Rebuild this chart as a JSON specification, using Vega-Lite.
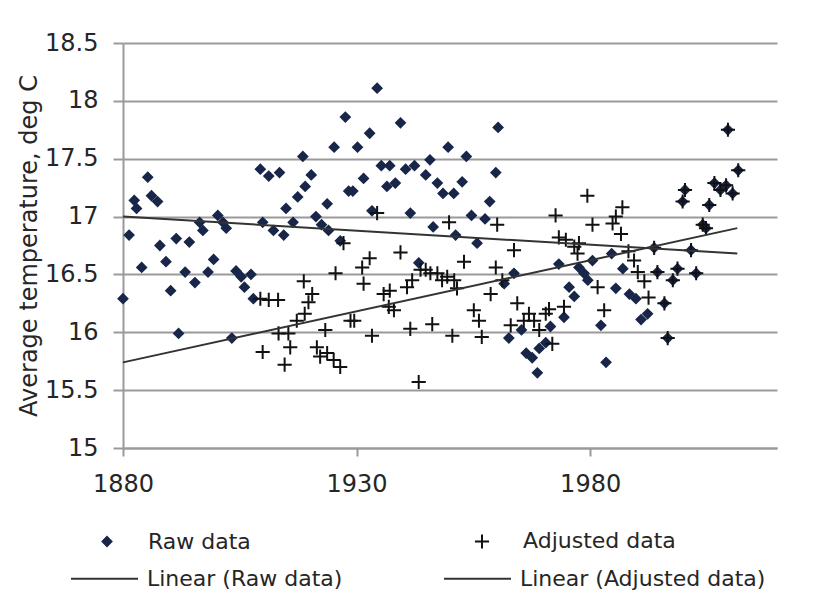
{
  "$schema": "https://vega.github.io/schema/vega-lite/v6.json",
  "width": 654,
  "height": 405,
  "autosize": {"type": "none"},
  "padding": {"left": 123, "top": 43, "right": 42, "bottom": 144},
  "background": "white",
  "config": {
    "view": {"stroke": null},
    "font": "DejaVu Sans",
    "axis": {"labelFont": "DejaVu Sans", "titleFont": "DejaVu Sans", "labelColor": "#262626", "titleColor": "#262626"},
    "legend": {"labelFont": "DejaVu Sans", "labelColor": "#262626", "labelLimit": 400}
  },
  "datasets": {
    "pts": [
      {"series": "Raw data", "year": 1880, "temp": 16.29},
      {"series": "Raw data", "year": 1881.3, "temp": 16.84},
      {"series": "Raw data", "year": 1882.4, "temp": 17.14},
      {"series": "Raw data", "year": 1882.9, "temp": 17.07},
      {"series": "Raw data", "year": 1884, "temp": 16.56},
      {"series": "Raw data", "year": 1885.3, "temp": 17.34},
      {"series": "Raw data", "year": 1886.1, "temp": 17.18},
      {"series": "Raw data", "year": 1887.4, "temp": 17.13},
      {"series": "Raw data", "year": 1887.9, "temp": 16.75},
      {"series": "Raw data", "year": 1889.2, "temp": 16.61},
      {"series": "Raw data", "year": 1890.2, "temp": 16.36},
      {"series": "Raw data", "year": 1891.4, "temp": 16.81},
      {"series": "Raw data", "year": 1891.9, "temp": 15.99},
      {"series": "Raw data", "year": 1893.3, "temp": 16.52},
      {"series": "Raw data", "year": 1894.2, "temp": 16.78},
      {"series": "Raw data", "year": 1895.4, "temp": 16.43},
      {"series": "Raw data", "year": 1896.4, "temp": 16.95},
      {"series": "Raw data", "year": 1897.1, "temp": 16.88},
      {"series": "Raw data", "year": 1898.2, "temp": 16.52},
      {"series": "Raw data", "year": 1899.4, "temp": 16.63},
      {"series": "Raw data", "year": 1900.3, "temp": 17.01},
      {"series": "Raw data", "year": 1901.4, "temp": 16.95},
      {"series": "Raw data", "year": 1902.1, "temp": 16.9},
      {"series": "Raw data", "year": 1903.3, "temp": 15.95},
      {"series": "Raw data", "year": 1904.2, "temp": 16.53},
      {"series": "Raw data", "year": 1905.3, "temp": 16.48},
      {"series": "Raw data", "year": 1906, "temp": 16.39},
      {"series": "Raw data", "year": 1907.4, "temp": 16.5},
      {"series": "Raw data", "year": 1907.9, "temp": 16.29},
      {"series": "Raw data", "year": 1909.4, "temp": 17.41},
      {"series": "Raw data", "year": 1909.9, "temp": 16.95},
      {"series": "Raw data", "year": 1911.2, "temp": 17.35},
      {"series": "Raw data", "year": 1912.2, "temp": 16.88},
      {"series": "Raw data", "year": 1913.5, "temp": 17.38},
      {"series": "Raw data", "year": 1914.4, "temp": 16.84},
      {"series": "Raw data", "year": 1914.9, "temp": 17.07},
      {"series": "Raw data", "year": 1916.4, "temp": 16.95},
      {"series": "Raw data", "year": 1917.4, "temp": 17.17},
      {"series": "Raw data", "year": 1918.5, "temp": 17.52},
      {"series": "Raw data", "year": 1919, "temp": 17.26},
      {"series": "Raw data", "year": 1920.3, "temp": 17.36},
      {"series": "Raw data", "year": 1921.3, "temp": 17.0},
      {"series": "Raw data", "year": 1922.5, "temp": 16.93},
      {"series": "Raw data", "year": 1923.7, "temp": 17.11},
      {"series": "Raw data", "year": 1924, "temp": 16.88},
      {"series": "Raw data", "year": 1925.2, "temp": 17.6},
      {"series": "Raw data", "year": 1926.5, "temp": 16.79},
      {"series": "Raw data", "year": 1927.6, "temp": 17.86},
      {"series": "Raw data", "year": 1928.3, "temp": 17.22},
      {"series": "Raw data", "year": 1929.2, "temp": 17.22},
      {"series": "Raw data", "year": 1930.2, "temp": 17.6},
      {"series": "Raw data", "year": 1931.5, "temp": 17.33},
      {"series": "Raw data", "year": 1932.8, "temp": 17.72},
      {"series": "Raw data", "year": 1933.3, "temp": 17.05},
      {"series": "Raw data", "year": 1934.4, "temp": 18.11},
      {"series": "Raw data", "year": 1935.3, "temp": 17.44},
      {"series": "Raw data", "year": 1936.5, "temp": 17.26},
      {"series": "Raw data", "year": 1937.1, "temp": 17.44},
      {"series": "Raw data", "year": 1938.3, "temp": 17.29},
      {"series": "Raw data", "year": 1939.4, "temp": 17.81},
      {"series": "Raw data", "year": 1940.5, "temp": 17.41},
      {"series": "Raw data", "year": 1941.5, "temp": 17.03},
      {"series": "Raw data", "year": 1942.4, "temp": 17.44},
      {"series": "Raw data", "year": 1943.3, "temp": 16.6},
      {"series": "Raw data", "year": 1944.8, "temp": 17.36},
      {"series": "Raw data", "year": 1945.7, "temp": 17.49},
      {"series": "Raw data", "year": 1946.4, "temp": 16.91},
      {"series": "Raw data", "year": 1947.3, "temp": 17.29},
      {"series": "Raw data", "year": 1948.5, "temp": 17.2},
      {"series": "Raw data", "year": 1949.6, "temp": 17.6},
      {"series": "Raw data", "year": 1950.8, "temp": 17.2},
      {"series": "Raw data", "year": 1951.2, "temp": 16.84},
      {"series": "Raw data", "year": 1952.6, "temp": 17.3},
      {"series": "Raw data", "year": 1953.5, "temp": 17.52},
      {"series": "Raw data", "year": 1954.6, "temp": 17.01},
      {"series": "Raw data", "year": 1955.8, "temp": 16.77},
      {"series": "Raw data", "year": 1957.5, "temp": 16.98},
      {"series": "Raw data", "year": 1958.5, "temp": 17.13},
      {"series": "Raw data", "year": 1959.8, "temp": 17.38},
      {"series": "Raw data", "year": 1960.3, "temp": 17.77},
      {"series": "Raw data", "year": 1961.6, "temp": 16.42},
      {"series": "Raw data", "year": 1962.6, "temp": 15.95},
      {"series": "Raw data", "year": 1963.7, "temp": 16.51},
      {"series": "Raw data", "year": 1965.3, "temp": 16.02},
      {"series": "Raw data", "year": 1966.3, "temp": 15.82},
      {"series": "Raw data", "year": 1967.6, "temp": 15.78},
      {"series": "Raw data", "year": 1968.7, "temp": 15.65},
      {"series": "Raw data", "year": 1969.1, "temp": 15.86},
      {"series": "Raw data", "year": 1970.5, "temp": 15.91},
      {"series": "Raw data", "year": 1971.5, "temp": 16.05},
      {"series": "Raw data", "year": 1973.3, "temp": 16.59},
      {"series": "Raw data", "year": 1974.4, "temp": 16.13},
      {"series": "Raw data", "year": 1975.5, "temp": 16.39},
      {"series": "Raw data", "year": 1976.6, "temp": 16.31},
      {"series": "Raw data", "year": 1977.6, "temp": 16.56},
      {"series": "Raw data", "year": 1978.7, "temp": 16.51},
      {"series": "Raw data", "year": 1979.5, "temp": 16.45},
      {"series": "Raw data", "year": 1980.5, "temp": 16.62},
      {"series": "Raw data", "year": 1982.3, "temp": 16.06},
      {"series": "Raw data", "year": 1983.4, "temp": 15.74},
      {"series": "Raw data", "year": 1984.6, "temp": 16.68},
      {"series": "Raw data", "year": 1985.5, "temp": 16.38},
      {"series": "Raw data", "year": 1987, "temp": 16.55},
      {"series": "Raw data", "year": 1988.4, "temp": 16.33},
      {"series": "Raw data", "year": 1989.8, "temp": 16.29},
      {"series": "Raw data", "year": 1990.9, "temp": 16.11},
      {"series": "Raw data", "year": 1992.3, "temp": 16.16},
      {"series": "Raw data", "year": 1993.7, "temp": 16.73},
      {"series": "Raw data", "year": 1994.4, "temp": 16.52},
      {"series": "Raw data", "year": 1995.9, "temp": 16.25},
      {"series": "Raw data", "year": 1996.6, "temp": 15.95},
      {"series": "Raw data", "year": 1997.7, "temp": 16.45},
      {"series": "Raw data", "year": 1998.7, "temp": 16.55},
      {"series": "Raw data", "year": 1999.8, "temp": 17.13},
      {"series": "Raw data", "year": 2000.3, "temp": 17.23},
      {"series": "Raw data", "year": 2001.6, "temp": 16.71},
      {"series": "Raw data", "year": 2002.7, "temp": 16.51},
      {"series": "Raw data", "year": 2004.1, "temp": 16.93},
      {"series": "Raw data", "year": 2004.8, "temp": 16.9},
      {"series": "Raw data", "year": 2005.5, "temp": 17.1},
      {"series": "Raw data", "year": 2006.6, "temp": 17.29},
      {"series": "Raw data", "year": 2007.9, "temp": 17.23},
      {"series": "Raw data", "year": 2009.1, "temp": 17.27},
      {"series": "Raw data", "year": 2009.5, "temp": 17.75},
      {"series": "Raw data", "year": 2010.5, "temp": 17.2},
      {"series": "Raw data", "year": 2011.7, "temp": 17.4},
      {"series": "Adjusted data", "year": 1909.4, "temp": 16.29},
      {"series": "Adjusted data", "year": 1909.9, "temp": 15.83},
      {"series": "Adjusted data", "year": 1911.2, "temp": 16.28},
      {"series": "Adjusted data", "year": 1913.2, "temp": 16.28},
      {"series": "Adjusted data", "year": 1913.3, "temp": 15.99},
      {"series": "Adjusted data", "year": 1914.6, "temp": 15.72},
      {"series": "Adjusted data", "year": 1915.4, "temp": 15.99},
      {"series": "Adjusted data", "year": 1915.8, "temp": 15.87},
      {"series": "Adjusted data", "year": 1917.2, "temp": 16.1},
      {"series": "Adjusted data", "year": 1918.7, "temp": 16.44},
      {"series": "Adjusted data", "year": 1918.9, "temp": 16.16},
      {"series": "Adjusted data", "year": 1919.7, "temp": 16.26},
      {"series": "Adjusted data", "year": 1920.5, "temp": 16.33},
      {"series": "Adjusted data", "year": 1921.5, "temp": 15.87},
      {"series": "Adjusted data", "year": 1922.2, "temp": 15.79},
      {"series": "Adjusted data", "year": 1923.3, "temp": 16.02},
      {"series": "Adjusted data", "year": 1923.7, "temp": 15.82},
      {"series": "Adjusted data", "year": 1925.1, "temp": 15.76},
      {"series": "Adjusted data", "year": 1925.5, "temp": 16.51},
      {"series": "Adjusted data", "year": 1926.5, "temp": 15.7},
      {"series": "Adjusted data", "year": 1927.2, "temp": 16.77},
      {"series": "Adjusted data", "year": 1928.7, "temp": 16.1},
      {"series": "Adjusted data", "year": 1929.5, "temp": 16.1},
      {"series": "Adjusted data", "year": 1931.2, "temp": 16.56},
      {"series": "Adjusted data", "year": 1931.5, "temp": 16.42},
      {"series": "Adjusted data", "year": 1932.8, "temp": 16.64},
      {"series": "Adjusted data", "year": 1933.3, "temp": 15.97},
      {"series": "Adjusted data", "year": 1934.4, "temp": 17.03},
      {"series": "Adjusted data", "year": 1935.8, "temp": 16.33},
      {"series": "Adjusted data", "year": 1936.9, "temp": 16.22},
      {"series": "Adjusted data", "year": 1937.1, "temp": 16.36},
      {"series": "Adjusted data", "year": 1938, "temp": 16.19},
      {"series": "Adjusted data", "year": 1939.4, "temp": 16.69},
      {"series": "Adjusted data", "year": 1940.8, "temp": 16.39},
      {"series": "Adjusted data", "year": 1941.5, "temp": 16.03},
      {"series": "Adjusted data", "year": 1941.9, "temp": 16.45},
      {"series": "Adjusted data", "year": 1943.3, "temp": 15.57},
      {"series": "Adjusted data", "year": 1943.7, "temp": 16.54},
      {"series": "Adjusted data", "year": 1944.8, "temp": 16.54},
      {"series": "Adjusted data", "year": 1945.8, "temp": 16.51},
      {"series": "Adjusted data", "year": 1946.2, "temp": 16.07},
      {"series": "Adjusted data", "year": 1947.3, "temp": 16.51},
      {"series": "Adjusted data", "year": 1948.3, "temp": 16.45},
      {"series": "Adjusted data", "year": 1949.4, "temp": 16.48},
      {"series": "Adjusted data", "year": 1949.8, "temp": 16.95},
      {"series": "Adjusted data", "year": 1950.5, "temp": 15.97},
      {"series": "Adjusted data", "year": 1950.9, "temp": 16.45},
      {"series": "Adjusted data", "year": 1951.5, "temp": 16.38},
      {"series": "Adjusted data", "year": 1953, "temp": 16.61},
      {"series": "Adjusted data", "year": 1955.1, "temp": 16.19},
      {"series": "Adjusted data", "year": 1956.2, "temp": 16.1},
      {"series": "Adjusted data", "year": 1956.8, "temp": 15.96},
      {"series": "Adjusted data", "year": 1958.7, "temp": 16.33},
      {"series": "Adjusted data", "year": 1959.8, "temp": 16.56},
      {"series": "Adjusted data", "year": 1960.1, "temp": 16.93},
      {"series": "Adjusted data", "year": 1961.2, "temp": 16.45},
      {"series": "Adjusted data", "year": 1963, "temp": 16.06},
      {"series": "Adjusted data", "year": 1963.7, "temp": 16.71},
      {"series": "Adjusted data", "year": 1964.4, "temp": 16.25},
      {"series": "Adjusted data", "year": 1965.8, "temp": 16.1},
      {"series": "Adjusted data", "year": 1966.9, "temp": 16.16},
      {"series": "Adjusted data", "year": 1968, "temp": 16.1},
      {"series": "Adjusted data", "year": 1969.1, "temp": 16.02},
      {"series": "Adjusted data", "year": 1970.5, "temp": 16.16},
      {"series": "Adjusted data", "year": 1971.2, "temp": 16.2},
      {"series": "Adjusted data", "year": 1971.9, "temp": 15.9},
      {"series": "Adjusted data", "year": 1972.6, "temp": 17.01},
      {"series": "Adjusted data", "year": 1973.3, "temp": 16.82},
      {"series": "Adjusted data", "year": 1974.4, "temp": 16.22},
      {"series": "Adjusted data", "year": 1974.8, "temp": 16.8},
      {"series": "Adjusted data", "year": 1976.6, "temp": 16.74},
      {"series": "Adjusted data", "year": 1977.3, "temp": 16.68},
      {"series": "Adjusted data", "year": 1977.6, "temp": 16.77},
      {"series": "Adjusted data", "year": 1979.4, "temp": 17.18},
      {"series": "Adjusted data", "year": 1980.5, "temp": 16.93},
      {"series": "Adjusted data", "year": 1981.6, "temp": 16.39},
      {"series": "Adjusted data", "year": 1983, "temp": 16.19},
      {"series": "Adjusted data", "year": 1984.8, "temp": 16.94},
      {"series": "Adjusted data", "year": 1985.5, "temp": 17.0},
      {"series": "Adjusted data", "year": 1986.6, "temp": 16.85},
      {"series": "Adjusted data", "year": 1986.9, "temp": 17.08},
      {"series": "Adjusted data", "year": 1988.2, "temp": 16.7},
      {"series": "Adjusted data", "year": 1989.4, "temp": 16.62},
      {"series": "Adjusted data", "year": 1990.2, "temp": 16.52},
      {"series": "Adjusted data", "year": 1991.6, "temp": 16.44},
      {"series": "Adjusted data", "year": 1992.5, "temp": 16.3},
      {"series": "Adjusted data", "year": 1993.7, "temp": 16.73},
      {"series": "Adjusted data", "year": 1994.4, "temp": 16.52},
      {"series": "Adjusted data", "year": 1995.9, "temp": 16.25},
      {"series": "Adjusted data", "year": 1996.6, "temp": 15.95},
      {"series": "Adjusted data", "year": 1997.7, "temp": 16.45},
      {"series": "Adjusted data", "year": 1998.7, "temp": 16.55},
      {"series": "Adjusted data", "year": 1999.8, "temp": 17.13},
      {"series": "Adjusted data", "year": 2000.3, "temp": 17.23},
      {"series": "Adjusted data", "year": 2001.6, "temp": 16.71},
      {"series": "Adjusted data", "year": 2002.7, "temp": 16.51},
      {"series": "Adjusted data", "year": 2004.1, "temp": 16.93},
      {"series": "Adjusted data", "year": 2004.8, "temp": 16.9},
      {"series": "Adjusted data", "year": 2005.5, "temp": 17.1},
      {"series": "Adjusted data", "year": 2006.6, "temp": 17.29},
      {"series": "Adjusted data", "year": 2007.9, "temp": 17.23},
      {"series": "Adjusted data", "year": 2009.1, "temp": 17.27},
      {"series": "Adjusted data", "year": 2009.5, "temp": 17.75},
      {"series": "Adjusted data", "year": 2010.5, "temp": 17.2},
      {"series": "Adjusted data", "year": 2011.7, "temp": 17.4}
    ],
    "trends": [
      {"trend": "Linear (Raw data)", "year": 1880, "temp": 17.0},
      {"trend": "Linear (Raw data)", "year": 2011.5, "temp": 16.68},
      {"trend": "Linear (Adjusted data)", "year": 1880, "temp": 15.74},
      {"trend": "Linear (Adjusted data)", "year": 2011.5, "temp": 16.9}
    ]
  },
  "layer": [
    {
      "data": {"name": "pts"},
      "mark": {"type": "point", "filled": false, "strokeWidth": 2, "opacity": 1},
      "encoding": {
        "x": {
          "field": "year", "type": "quantitative",
          "scale": {"domain": [1880, 2020], "nice": false, "zero": false},
          "axis": {
            "title": null, "values": [1880, 1930, 1980], "format": "d", "grid": false, "labelFlush": false,
            "domainColor": "#9a9a9a", "domainWidth": 2, "tickColor": "#9a9a9a", "tickWidth": 2, "tickSize": 8,
            "labelFontSize": 24, "labelPadding": 16
          }
        },
        "y": {
          "field": "temp", "type": "quantitative",
          "scale": {"domain": [15, 18.5], "nice": false, "zero": false},
          "axis": {
            "title": "Average temperature, deg C", "titleFontSize": 24, "titleFontWeight": "normal", "titlePadding": 3,
            "values": [15, 15.5, 16, 16.5, 17, 17.5, 18, 18.5], "format": "~g",
            "grid": true, "gridColor": "#9a9a9a", "gridWidth": 2,
            "domainColor": "#9a9a9a", "domainWidth": 2, "tickColor": "#9a9a9a", "tickWidth": 2, "tickSize": 10,
            "labelFontSize": 24, "labelPadding": 15
          }
        },
        "shape": {
          "field": "series", "type": "nominal",
          "scale": {"domain": ["Raw data", "Adjusted data"], "range": ["diamond", "M-1,0L1,0M0,-1L0,1"]},
          "legend": {
            "title": null, "orient": "none", "legendX": -27, "legendY": 487, "direction": "horizontal",
            "labelFontSize": 22, "labelOffset": 30, "columnPadding": 219, "symbolStrokeWidth": 2, "padding": 0
          }
        },
        "fill": {
          "field": "series", "type": "nominal",
          "scale": {"domain": ["Raw data", "Adjusted data"], "range": ["#18264a", "transparent"]}
        },
        "color": {
          "field": "series", "type": "nominal",
          "scale": {"domain": ["Raw data", "Adjusted data"], "range": ["#18264a", "#111111"]}
        },
        "size": {
          "field": "series", "type": "nominal",
          "scale": {"type": "ordinal", "domain": ["Raw data", "Adjusted data"], "range": [80, 200]}
        }
      }
    },
    {
      "data": {"name": "trends"},
      "mark": {"type": "line", "strokeWidth": 2},
      "encoding": {
        "x": {"field": "year", "type": "quantitative"},
        "y": {"field": "temp", "type": "quantitative"},
        "stroke": {
          "field": "trend", "type": "nominal",
          "scale": {"domain": ["Linear (Raw data)", "Linear (Adjusted data)"], "range": ["#333333", "#333333"]},
          "legend": {
            "title": null, "orient": "none", "legendX": -53, "legendY": 501, "direction": "horizontal",
            "symbolType": "stroke", "symbolSize": 4489, "symbolStrokeWidth": 2,
            "labelFontSize": 22, "labelOffset": 8, "columnPadding": 97, "padding": 0
          }
        }
      }
    }
  ]
}
